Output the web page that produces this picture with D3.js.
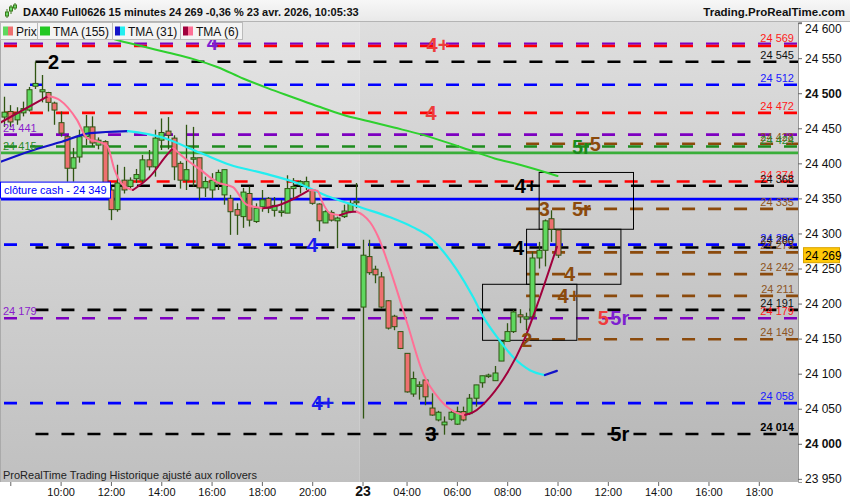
<!DOCTYPE html>
<html><head><meta charset="utf-8">
<script src="https://cdn.jsdelivr.net/npm/d3@7"></script>
<style>body{margin:0;background:#fff}svg{display:block;font-family:Arial,"Liberation Sans",sans-serif}</style>
</head><body><svg id="c" width="850" height="500"></svg>
<script>
// ---------------- DATA ----------------
const barOpen  = [24466,24474,24462,24472,24476,24510,24502,24501,24486,24458,24438,24393,24409,24438,24452,24426,24431,24362,24334,24376,24367,24378,24376,24405,24395,24433,24446,24436,24400,24376,24406,24408,24365,24362,24372,24355,24350,24334,24324,24357,24317,24338,24350,24333,24331,24329,24364,24369,24367,24362,24342,24315,24330,24318,24324,24331,24345,
                  24195,24267,24249,24238,24204,24182,24160,24129,24071,24082,24091,24051,24034,24027,24035,24028,24046,24043,24065,24087,24097,24090,24118,24146,24160,24184,24178,24181,24265,24276,24321,24305];
const barHigh  = [24495,24483,24480,24488,24509,24545,24526,24502,24488,24474,24440,24422,24448,24469,24467,24437,24433,24367,24398,24395,24380,24392,24412,24419,24448,24464,24466,24440,24403,24455,24452,24408,24381,24386,24391,24391,24355,24343,24365,24367,24343,24362,24352,24352,24348,24383,24379,24376,24381,24362,24343,24333,24333,24324,24341,24348,24372,
                  24291,24291,24254,24245,24205,24184,24160,24129,24103,24089,24091,24072,24047,24039,24047,24053,24053,24071,24084,24097,24100,24111,24146,24172,24191,24192,24187,24274,24288,24320,24333,24305];
const barLow   = [24452,24452,24455,24467,24474,24506,24487,24474,24455,24438,24374,24374,24401,24426,24424,24420,24367,24319,24331,24357,24362,24372,24372,24390,24381,24419,24420,24376,24364,24362,24367,24348,24352,24350,24362,24341,24298,24298,24308,24310,24315,24331,24329,24324,24324,24329,24348,24357,24362,24341,24303,24315,24317,24279,24322,24329,24336,
                  24036,24241,24229,24193,24163,24162,24135,24073,24067,24063,24055,24040,24032,24013,24033,24027,24032,24041,24053,24080,24094,24090,24118,24146,24158,24172,24162,24179,24250,24253,24288,24265];
const barClose = [24473,24459,24472,24478,24505,24514,24505,24487,24476,24443,24393,24408,24438,24452,24429,24433,24367,24334,24372,24362,24376,24384,24405,24395,24436,24444,24440,24395,24376,24391,24408,24365,24374,24376,24387,24391,24331,24326,24359,24319,24336,24348,24336,24340,24332,24364,24367,24374,24374,24343,24318,24331,24319,24322,24332,24343,24346,
                  24269,24244,24241,24195,24165,24167,24136,24074,24093,24084,24067,24041,24045,24031,24045,24046,24034,24065,24084,24097,24098,24101,24146,24160,24188,24181,24181,24265,24276,24318,24306,24269];

// moving averages (bar index, value)
const tma155Idx = [10,14,18,22,26,30,34,38,42,46,50,54,58,62,66,70,74,78,82,88];
const tma155Val = [24598,24588,24576,24567,24558,24549,24537,24521,24507,24494,24481,24469,24460,24451,24442,24431,24419,24407,24398,24382];
const tma31Idx = [-0.6,4,8.9,13.7,19.7,24.8,31.2,35.9,41.2,46.6,51.8,57.1,61.4,65,67.7,69.3,72,74.6,76.2,78.4,80.9,83.6,86,87.9];
const tma31Val = [24402,24417,24430,24443,24446,24438,24415,24398,24386,24372,24352,24336,24323,24309,24295,24280,24248,24209,24181,24152,24124,24105,24098,24104];
const tma6Idx = [-0.6,7.0,8.9,11.6,13.2,15.3,16.4,17.6,18.9,20.5,23.2,25.9,26.9,28.5,31.2,33.9,36.4,38.6,41.2,43.9,46.6,48.6,49.8,50.7,51.8,53.4,55.5,56.1,57.1,58.2,59.5,61.4,64.1,66.6,69.3,72,73.3,74.6,77.3,80,82.5,85.2,87.9];
const tma6Val = [24458,24496,24490,24462,24436,24430,24425,24390,24369,24362,24381,24412,24422,24409,24391,24373,24366,24341,24336,24341,24352,24362,24361,24343,24329,24326,24331,24331,24326,24316,24295,24248,24172,24101,24063,24044,24041,24045,24067,24101,24144,24209,24281];

// horizontal levels
const levelPrice = [24569,24569,24545,24512,24472,24441,24428,24424,24374,24368,24335,24284,24280,24273,24242,24211,24191,24179,24149,24058,24014];
const levelStart = [0,0,5,0,0,0,83,0,16,17,83,0,5,83,83,83,5,0,83,0,5];
const levelKind  = ["purple","red","black","blue","red","purple","brown","green","red","black","brown","blue","black","brown","brown","brown","black","purple","brown","blue","black"];
const solidPrice = [24415,24349];
const solidKind  = ["green","blue"];

// right-side level labels
const rLabelText  = ["24 569","24 545","24 512","24 472","24 428","24 424","24 374","24 368","24 335","24 284","24 280","24 273","24 242","24 211","24 191","24 179","24 149","24 058","24 014"];
const rLabelPrice = [24569,24545,24512,24472,24428,24424,24374,24368,24335,24284,24280,24273,24242,24211,24191,24179,24149,24058,24014];
const rLabelKind  = ["red","black","blue","red","brown","green","red","black","brown","blue","black","brown","brown","brown","black","red","brown","blue","blackb"];
// left labels
const lLabelText  = ["24 441","24 415","24 179"];
const lLabelPrice = [24441,24415,24179];
const lLabelKind  = ["purple","green","purple"];

// annotations
const annText  = ["2","4+","4","4","4","4+","3","5r","4+","4","3","5r","4","4+","2","5","5r","5r","5"];
const annIdx   = [7.87,69.0,67.9,33.1,49.0,50.7,67.9,97.9,83.0,81.8,85.9,91.8,89.9,89.8,83.1,95.3,97.9,91.8,94.0];
const annPrice = [24545,24569,24472,24572,24284,24058,24014,24014,24368,24280,24335,24335,24242,24211,24149,24179,24179,24424,24428];
const annKind  = ["black","red","red","purple","blue","blue","black","black","black","black","brown","brown","brown","brown","brown","red","purple","green","brown"];

// zone boxes [startIdx,endIdx,topPrice,bottomPrice]
const boxStart = [85,83,76];
const boxEnd   = [100,98,91];
const boxTop   = [24387,24306,24227.5];
const boxBot   = [24306,24227.5,24147.6];

// axes
const priceTicks = [23950,24000,24050,24100,24150,24200,24250,24300,24350,24400,24450,24500,24550,24600];
const timeTickIdx = [1,9,17,25,33,41,49,57,64,72,80,88,96,104,112,120];
const timeTickLab = ["","10:00","12:00","14:00","16:00","18:00","20:00","23","04:00","06:00","08:00","10:00","12:00","14:00","16:00","18:00"];
const lastPrice = 24269;
const cashClose = 24349;

// ---------------- STYLE ----------------
const COL = {purple:"#7d00c0", red:"#ff0000", black:"#000000", blackb:"#000000", blue:"#0000ff", brown:"#8b4a0c", green:"#1e8c1e"};
const TXT = {purple:"#8a1ccc", red:"#ff1a1a", black:"#111111", blackb:"#000000", blue:"#1a1aff", brown:"#8d5524", green:"#2a8a2a"};
const ANN = {purple:"#7d1fd0", red:"#ee3b3b", black:"#000000", blue:"#1a1aee", brown:"#8b4a0c", green:"#1a8a1a"};

const svg = d3.select("#c");
const PL=1, PR=798, PT=22, PB=482;
const x = d3.scaleLinear().domain([0,126]).range([4, 4+126*6.29]);
const y = d3.scaleLinear().domain([23945.5,24601.6]).range([PB,PT]);

const defs = svg.append("defs");
function grad(id, c1, c2){
  const g = defs.append("linearGradient").attr("id",id).attr("x1",0).attr("y1",0).attr("x2",0).attr("y2",1);
  g.append("stop").attr("offset","0%").attr("stop-color",c1);
  g.append("stop").attr("offset","100%").attr("stop-color",c2);
}
grad("bg1","#e4e4e4","#c0c0c0");
grad("bg2","#dedede","#b6b6b6");
grad("titleg","#f7f7f7","#e9e9e9");
defs.append("clipPath").attr("id","plotclip").append("rect").attr("x",PL).attr("y",PT).attr("width",PR-PL).attr("height",PB-PT);

// background
svg.append("rect").attr("x",0).attr("y",0).attr("width",850).attr("height",500).attr("fill","#fff");
const dayX = x(56.5);
svg.append("rect").attr("x",PL).attr("y",PT).attr("width",dayX-PL).attr("height",PB-PT).attr("fill","url(#bg1)");
svg.append("rect").attr("x",dayX).attr("y",PT).attr("width",PR-dayX).attr("height",PB-PT).attr("fill","url(#bg2)");
svg.append("line").attr("x1",0.5).attr("x2",0.5).attr("y1",PT).attr("y2",PB).attr("stroke","#aaa");

const plot = svg.append("g").attr("clip-path","url(#plotclip)");

// dashed levels
levelPrice.forEach((p,i)=>{
  const k = levelKind[i];
  let yy = y(p);
  if (p===24569) yy += (k==="purple" ? -1.2 : 1.2);
  plot.append("line").attr("x1",x(levelStart[i])).attr("x2",PR).attr("y1",yy).attr("y2",yy)
    .attr("stroke",COL[k]).attr("stroke-width", p===24569?2.4:2.6).attr("stroke-dasharray","13,13");
});
solidPrice.forEach((p,i)=>{
  plot.append("line").attr("x1",PL).attr("x2",PR).attr("y1",y(p)).attr("y2",y(p))
    .attr("stroke", solidKind[i]==="green" ? "#3aae3a" : "#0000ff").attr("stroke-width",2.6);
});

// boxes
boxStart.forEach((s,i)=>{
  plot.append("rect").attr("x",x(s)+0.5).attr("y",y(boxTop[i])).attr("width",x(boxEnd[i])-x(s)).attr("height",y(boxBot[i])-y(boxTop[i]))
    .attr("fill","none").attr("stroke","#000").attr("stroke-width",1);
});

// candles
const cg = plot.append("g");
barOpen.forEach((o,i)=>{
  const c = barClose[i], h = barHigh[i], l = barLow[i];
  const cx = Math.round(x(i))+0.5;
  const up = c>=o;
  cg.append("line").attr("x1",cx).attr("x2",cx).attr("y1",y(h)).attr("y2",y(l)).attr("stroke","#2f5512").attr("stroke-width",1.3);
  const top = y(Math.max(o,c)), bot = y(Math.min(o,c));
  cg.append("rect").attr("x",cx-2.5).attr("y",top).attr("width",5).attr("height",Math.max(1.5,bot-top))
    .attr("fill", up ? "#5fd85f" : "#ee7070").attr("stroke","#2f5512").attr("stroke-width",1);
});

// moving averages
function drawMA(idx, val, upCol, downCol, w){
  const pts = idx.map((d,i)=>[x(d), y(val[i])]);
  let runs = [], cur = [pts[0]], dir = null;
  for (let i=1;i<pts.length;i++){
    const d = val[i] >= val[i-1] ? "up" : "down";
    if (dir===null) dir=d;
    if (d!==dir){ runs.push({dir, pts:cur}); cur=[pts[i-1]]; dir=d; }
    cur.push(pts[i]);
  }
  runs.push({dir, pts:cur});
  const line = d3.line().curve(d3.curveMonotoneX);
  runs.forEach(r=>{
    plot.append("path").attr("d",line(r.pts)).attr("fill","none").attr("stroke", r.dir==="up"?upCol:downCol)
      .attr("stroke-width",w).attr("stroke-linejoin","round").attr("stroke-linecap","round");
  });
}
drawMA(tma155Idx, tma155Val, "#2ed02e", "#2ed02e", 2);
drawMA(tma31Idx, tma31Val, "#1212c8", "#22eef0", 2.2);
drawMA(tma6Idx, tma6Val, "#a0003c", "#ff7096", 2);

// right labels
const lg = svg.append("g").attr("font-size","11px");
rLabelText.forEach((t,i)=>{
  lg.append("text").attr("x",794).attr("y",y(rLabelPrice[i])-3).attr("text-anchor","end")
    .attr("fill",TXT[rLabelKind[i]]).attr("font-weight", rLabelKind[i]==="blackb"?"bold":"normal").text(t);
});
lLabelText.forEach((t,i)=>{
  lg.append("text").attr("x",3).attr("y",y(lLabelPrice[i])-3).attr("fill",TXT[lLabelKind[i]]).text(t);
});

// annotations
const ag = svg.append("g").attr("font-size","20px").attr("font-weight","bold").attr("text-anchor","middle");
annText.forEach((t,i)=>{
  ag.append("text").attr("x",x(annIdx[i])).attr("y",y(annPrice[i])).attr("dy","0.36em")
    .attr("fill",ANN[annKind[i]]).text(t);
});

// cash close label
const cy = y(cashClose);
svg.append("rect").attr("x",0.5).attr("y",cy-17).attr("width",110).attr("height",16).attr("fill","#fff").attr("stroke","#0000ff");
svg.append("text").attr("x",4).attr("y",cy-5).attr("font-size","11px").attr("fill","#0000ff").text("clôture cash -  24 349");

// right axis panel
svg.append("rect").attr("x",PR).attr("y",PT).attr("width",850-PR).attr("height",500-PT).attr("fill","#fff");
svg.append("rect").attr("x",0).attr("y",PB).attr("width",PR).attr("height",500-PB).attr("fill","#fff");
const yAxis = d3.axisRight(y).tickValues(priceTicks).tickSize(4).tickPadding(3)
  .tickFormat(d=>d3.format(",")(d).replace(",", " "));
const ya = svg.append("g").attr("transform",`translate(${PR},0)`).call(yAxis);
ya.select(".domain").attr("stroke","#999");
ya.selectAll(".tick line").attr("stroke","#666");
ya.selectAll("text").attr("font-size","12px").attr("fill","#111").attr("font-family","Arial,'Liberation Sans',sans-serif")
  .attr("font-weight",d=> (d===24500||d===24000) ? "bold":"normal")
  .attr("dy", d=> d===24600 ? "0.75em" : "0.32em");

// bottom axis
const xAxis = d3.axisBottom(x).tickValues(timeTickIdx).tickSize(4).tickPadding(2).tickFormat((d,i)=>timeTickLab[i]);
const xa = svg.append("g").attr("transform",`translate(0,${PB})`).call(xAxis);
xa.select(".domain").remove();
xa.selectAll(".tick line").attr("stroke","#666");
xa.selectAll("text").attr("font-size",(d,i)=>timeTickLab[i]==="23"?"14px":"11px").attr("font-weight",(d,i)=>timeTickLab[i]==="23"?"bold":"normal")
  .attr("fill","#111").attr("font-family","Arial,'Liberation Sans',sans-serif").attr("dy", (d,i)=>timeTickLab[i]==="23"?"0.6em":"0.71em");

// current price tag
const py = y(lastPrice);
svg.append("rect").attr("x",803.5).attr("y",py-7.5).attr("width",36).attr("height",15).attr("fill","#ffc808").attr("stroke","#d9a300");
svg.append("text").attr("x",805).attr("y",py+4.5).attr("font-size","12px").attr("fill","#000").text("24 269");

// footer text
svg.append("text").attr("x",3).attr("y",479).attr("font-size","11px").attr("fill","#222").text("ProRealTime Trading  Historique ajusté aux rollovers");

// title bar
svg.append("rect").attr("x",0).attr("y",0).attr("width",850).attr("height",21).attr("fill","url(#titleg)");
svg.append("line").attr("x1",0).attr("x2",850).attr("y1",21.5).attr("y2",21.5).attr("stroke","#b4b4b4");
svg.append("text").attr("x",23).attr("y",15.5).attr("font-size","11px").attr("font-weight","bold").attr("fill","#111")
  .text("DAX40 Full0626 15 minutes 24 269 -0,36 % 23 avr. 2026, 10:05:33");
svg.append("text").attr("x",845).attr("y",15.5).attr("text-anchor","end").attr("font-size","11.5px").attr("font-weight","bold").attr("fill","#111")
  .text("Trading.ProRealTime.com");
// mini candle icon
const ic = svg.append("g").attr("stroke","#3a7a1a");
[[7,9,18,12,16],[11,5,14,7,11],[15,3,10,5,8]].forEach(([cx,t,b,bt,bb])=>{
  ic.append("line").attr("x1",cx).attr("x2",cx).attr("y1",t).attr("y2",b);
  ic.append("rect").attr("x",cx-1.5).attr("y",bt).attr("width",3).attr("height",bb-bt).attr("fill","#6ad86a");
});

// legend tabs
const legNames = ["Prix","TMA (155)","TMA (31)","TMA (6)"];
const legC1 = ["#5fd85f","#22c822","#1212c8","#a0003c"];
const legC2 = ["#ee7070","#22c822","#22eef0","#ff7096"];
const tabX = [0,37,112,180,242];
const leg = svg.append("g");
legNames.forEach((n,i)=>{
  leg.append("rect").attr("x",tabX[i]+0.5).attr("y",22.5).attr("width",tabX[i+1]-tabX[i]).attr("height",17).attr("fill","#f4f4f4").attr("stroke","#bbb");
  leg.append("rect").attr("x",tabX[i]+3).attr("y",26.5).attr("width",5).attr("height",9).attr("fill",legC1[i]);
  leg.append("rect").attr("x",tabX[i]+8).attr("y",26.5).attr("width",5).attr("height",9).attr("fill",legC2[i]);
  leg.append("text").attr("x",tabX[i]+16).attr("y",35.5).attr("font-size","12px").attr("fill","#111").text(n);
});
</script>
</body></html>
